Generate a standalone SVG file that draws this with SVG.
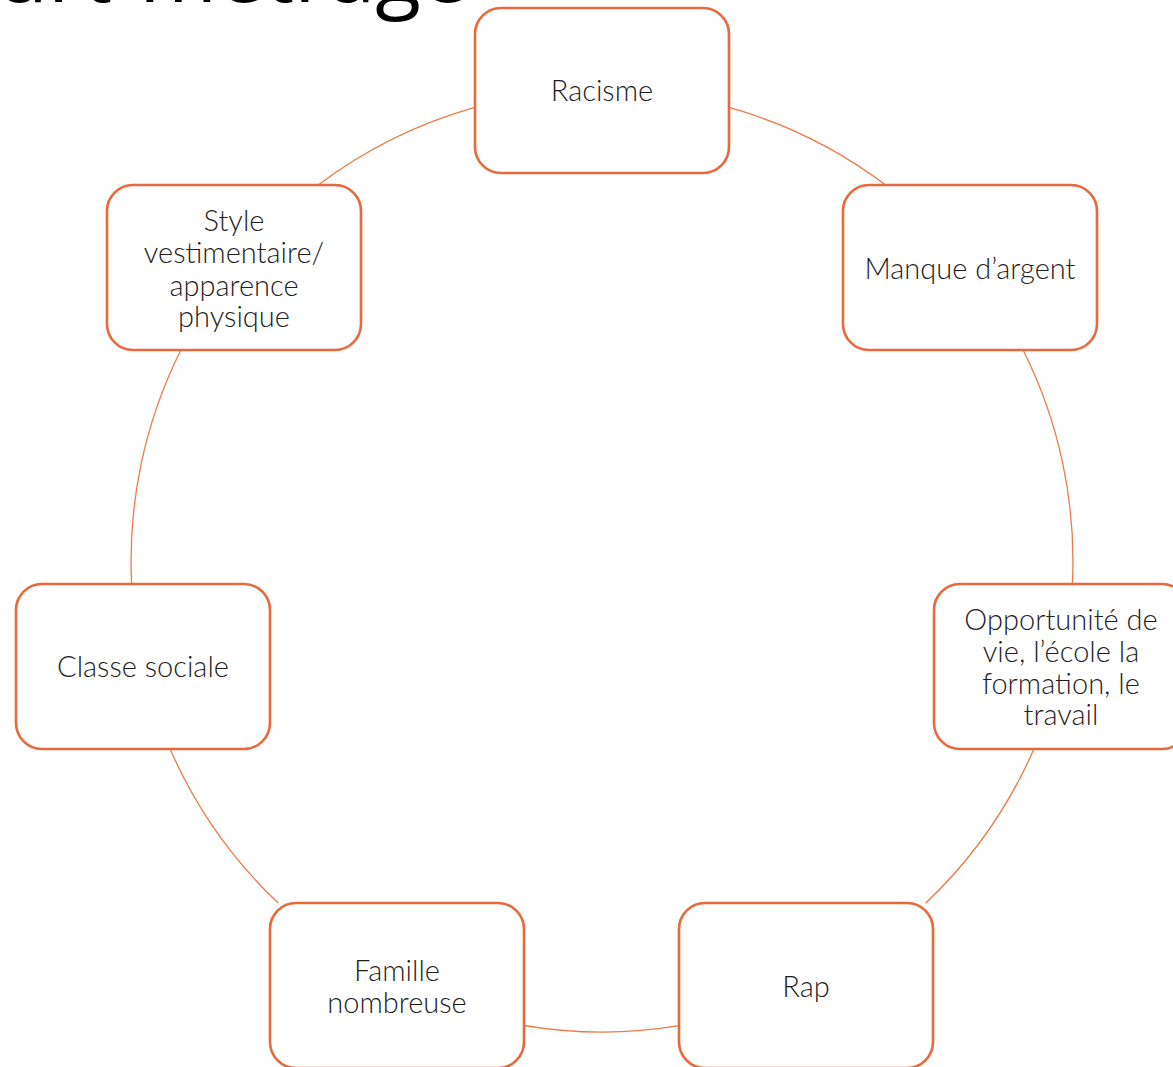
<svg xmlns="http://www.w3.org/2000/svg" width="1173" height="1067" viewBox="0 0 1173 1067">
<style>
.box{fill:#fff;stroke:#E8693A;stroke-width:2.6}
.t{font-family:Lato,"Liberation Sans",sans-serif;font-weight:300;font-size:29px;fill:#1e1e1e;text-anchor:middle;dominant-baseline:central}
.c{fill:none;stroke:#EE7A4A;stroke-width:1.3}
.title{font-family:"Open Sans","Liberation Sans",sans-serif;font-size:84px;fill:#000;text-anchor:end}
</style>
<rect width="1173" height="1067" fill="#fff"/>
<text class="title" x="468" y="2">Court-métrage</text>
<g id="connectors">
<path class="c" d="M729,107.4 A471,471 0 0 1 885.7,185"/>
<path class="c" d="M1023.1,350 A471,471 0 0 1 1072.4,584"/>
<path class="c" d="M1033.9,749 A471,471 0 0 1 925.8,903"/>
<path class="c" d="M679,1025.7 A471,471 0 0 1 524,1025.5"/>
<path class="c" d="M278.2,903 A471,471 0 0 1 170.1,749"/>
<path class="c" d="M131.6,584 A471,471 0 0 1 180.9,350"/>
<path class="c" d="M318.3,185 A471,471 0 0 1 475,107.4"/>
</g>
<g id="racisme"><rect class="box" x="475" y="8" width="254" height="165" rx="26"/><text class="t" x="602" y="89">Racisme</text></g>
<g id="manque"><rect class="box" x="843" y="185" width="254" height="165" rx="26"/><text class="t" x="970" y="267">Manque d’argent</text></g>
<g id="opportunite"><rect class="box" x="934" y="584" width="254" height="165" rx="26"/><text class="t" x="1061"><tspan x="1061" y="618">Opportunité de</tspan><tspan x="1061" y="650">vie, l’école la</tspan><tspan x="1061" y="682">formation, le</tspan><tspan x="1061" y="713">travail</tspan></text></g>
<g id="rap"><rect class="box" x="679" y="903" width="254" height="165" rx="26"/><text class="t" x="806" y="985">Rap</text></g>
<g id="famille"><rect class="box" x="270" y="903" width="254" height="165" rx="26"/><text class="t" x="397"><tspan x="397" y="969">Famille</tspan><tspan x="397" y="1001">nombreuse</tspan></text></g>
<g id="classe"><rect class="box" x="16" y="584" width="254" height="165" rx="26"/><text class="t" x="143" y="665">Classe sociale</text></g>
<g id="style"><rect class="box" x="107" y="185" width="254" height="165" rx="26"/><text class="t" x="234"><tspan x="234" y="219">Style</tspan><tspan x="234" y="251">vestimentaire/</tspan><tspan x="234" y="284">apparence</tspan><tspan x="234" y="315">physique</tspan></text></g>
</svg>
